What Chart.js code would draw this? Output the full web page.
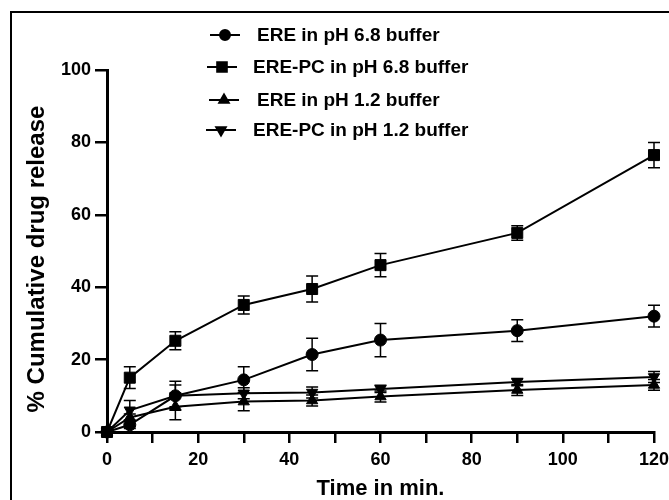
<!DOCTYPE html>
<html lang="en">
<head>
  <meta charset="utf-8"/>
  <title>Cumulative drug release</title>
  <script src="https://cdn.jsdelivr.net/npm/chart.js@4/dist/chart.umd.min.js"></script>
  <style>
    html, body { margin: 0; padding: 0; background: #fff; }
    #wrap { width: 669px; height: 500px; position: relative; }
  </style>
</head>
<body>
<div id="wrap"><canvas id="releaseChart" width="669" height="500"></canvas></div>
<script>
// time points (min)
const times = [0, 5, 15, 30, 45, 60, 90, 120];

// % cumulative release
const erePh68      = [0, 2, 10, 14.4, 21.4, 25.4, 28, 32];
const erePh68Err   = [0, 1, 4, 3.6, 4.5, 4.6, 3, 3];
const erePcPh68    = [0, 15, 25.2, 35.1, 39.5, 46.1, 55, 76.5];
const erePcPh68Err = [0, 3, 2.5, 2.5, 3.6, 3.2, 2, 3.5];
const erePh12      = [0, 4, 7, 8.4, 8.7, 9.8, 11.6, 13];
const erePh12Err   = [0, 1, 3.6, 2.5, 1.5, 1.5, 1.5, 1.5];
const erePcPh12    = [0, 6, 10, 10.7, 10.9, 11.9, 13.8, 15.2];
const erePcPh12Err = [0, 2.7, 3, 1.5, 1.5, 1, 1, 1.5];

const seriesLabels = [
  'ERE in pH 6.8 buffer',
  'ERE-PC in pH 6.8 buffer',
  'ERE in pH 1.2 buffer',
  'ERE-PC in pH 1.2 buffer'
];
const seriesValues = [erePh68, erePcPh68, erePh12, erePcPh12];
const seriesErrors = [erePh68Err, erePcPh68Err, erePh12Err, erePcPh12Err];
const pointStyles = ['circle', 'rect', 'triangle', 'triangle'];
const pointRotations = [0, 0, 0, 180];
const pointSizes = [6, 7.8, 6.5, 6.5];

const FONT = "'Liberation Sans', Arial, sans-serif";

const datasets = seriesValues.map((vals, i) => ({
  label: seriesLabels[i],
  data: times.map((t, j) => ({ x: t, y: vals[j] })),
  errors: seriesErrors[i],
  borderColor: '#000',
  backgroundColor: '#000',
  borderWidth: 2,
  pointStyle: pointStyles[i],
  rotation: pointRotations[i],
  pointRadius: pointSizes[i],
  pointBorderWidth: 1,
  showLine: true,
  tension: 0,
  clip: false
}));

// error bars from each dataset's errors array
const errorBars = {
  id: 'errorBars',
  afterDatasetsDraw(chart) {
    const ctx = chart.ctx;
    const xs = chart.scales.x, ys = chart.scales.y;
    ctx.save();
    ctx.strokeStyle = '#000';
    ctx.lineWidth = 1.5;
    chart.data.datasets.forEach(ds => {
      ds.data.forEach((p, j) => {
        const e = ds.errors[j];
        if (!e) return;
        const px = xs.getPixelForValue(p.x);
        const top = ys.getPixelForValue(p.y + e);
        const bot = ys.getPixelForValue(p.y - e);
        ctx.beginPath();
        ctx.moveTo(px, top); ctx.lineTo(px, bot);
        ctx.moveTo(px - 6, top); ctx.lineTo(px + 6, top);
        ctx.moveTo(px - 6, bot); ctx.lineTo(px + 6, bot);
        ctx.stroke();
      });
    });
    ctx.restore();
  }
};

// legend (short line through marker), y-axis title and the outer frame
const figureExtras = {
  id: 'figureExtras',
  afterDraw(chart) {
    const ctx = chart.ctx;
    ctx.save();
    ctx.strokeStyle = '#000';
    ctx.lineWidth = 2;
    ctx.strokeRect(11, 12, 700, 520);

    // y-axis title
    ctx.save();
    ctx.translate(37, 259);
    ctx.rotate(-Math.PI / 2);
    ctx.fillStyle = '#000';
    ctx.font = 'bold 24px ' + FONT;
    ctx.textAlign = 'center';
    ctx.textBaseline = 'middle';
    ctx.fillText('% Cumulative drug release', 0, 0);
    ctx.restore();

    const rowsY = [35, 67, 100, 130];
    const markX = [225, 222, 224, 221];
    const textX = [257, 253, 257, 253];
    chart.data.datasets.forEach((ds, i) => {
      const y = rowsY[i];
      ctx.strokeStyle = '#000';
      ctx.lineWidth = 2;
      ctx.beginPath();
      ctx.moveTo(markX[i] - 15, y); ctx.lineTo(markX[i] + 15, y);
      ctx.stroke();
      ctx.fillStyle = '#000';
      Chart.helpers.drawPoint(ctx, {
        pointStyle: ds.pointStyle, rotation: ds.rotation,
        radius: ds.pointRadius - 1, borderWidth: 1
      }, markX[i], y);
      ctx.fill();
      ctx.font = 'bold 19px ' + FONT;
      ctx.textBaseline = 'middle';
      ctx.textAlign = 'left';
      ctx.fillText(ds.label, textX[i], y + 1);
    });
    ctx.restore();
  }
};

new Chart(document.getElementById('releaseChart'), {
  type: 'scatter',
  data: { datasets },
  options: {
    responsive: false,
    animation: false,
    layout: { padding: { left: 0, top: 70, right: 15, bottom: 0 } },
    plugins: { legend: { display: false }, tooltip: { enabled: false } },
    scales: {
      x: {
        type: 'linear', min: 0, max: 120,
        afterFit(s) { s.height = 68; s.paddingRight = 0; s.paddingLeft = 0; },
        ticks: {
          stepSize: 10, color: '#000', padding: 6,
          font: { family: FONT, size: 18, weight: 'bold' },
          callback: v => (v % 20 === 0 ? v : '')
        },
        grid: { drawOnChartArea: false, drawTicks: true, tickLength: 11, color: '#000', lineWidth: 2.5 },
        border: { color: '#000', width: 3 },
        title: {
          display: true, text: 'Time in min.', color: '#000',
          font: { family: FONT, size: 22, weight: 'bold', lineHeight: 1 },
          padding: { top: 0, bottom: 0 }
        }
      },
      y: {
        min: 0, max: 100,
        afterFit(s) { s.width = 107; },
        ticks: {
          stepSize: 20, color: '#000', padding: 4,
          font: { family: FONT, size: 18, weight: 'bold' }
        },
        grid: { drawOnChartArea: false, drawTicks: true, tickLength: 12, color: '#000', lineWidth: 2.5 },
        border: { color: '#000', width: 3 },
        title: { display: false }
      }
    }
  },
  plugins: [errorBars, figureExtras]
});
</script>
</body>
</html>
